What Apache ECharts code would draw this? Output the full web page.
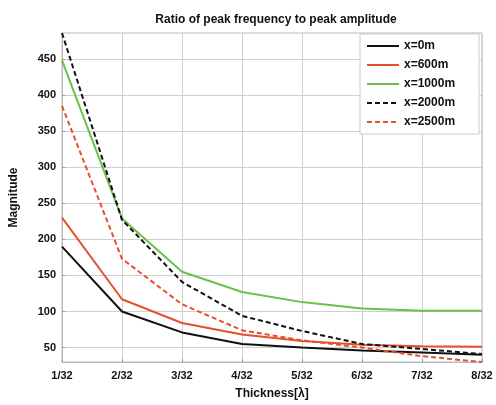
<!DOCTYPE html>
<html>
<head>
<meta charset="utf-8">
<script src="https://cdn.jsdelivr.net/npm/echarts@6/dist/echarts.min.js"></script>
<style>
  html, body { margin: 0; padding: 0; background: #fff; }
  #main { width: 496px; height: 405px; }
</style>
</head>
<body>
<div id="main"></div>
<script>
// thickness categories
const categories = ['1/32', '2/32', '3/32', '4/32', '5/32', '6/32', '7/32', '8/32']
const yTicks = [50, 100, 150, 200, 250, 300, 350, 400, 450]

// values
const x0m = [190, 100, 71, 55, 50, 46, 43, 40]
const x600m = [230, 117, 84, 68, 59, 54, 52, 51]
const x1000m = [448, 229, 155, 127, 113, 104, 101, 101]
const x2000m = [486, 227, 141, 94, 73, 55, 48, 41]
const x2500m = [385, 173, 110, 74, 60, 50, 38, 30]

const red = '#e5502e'
const green = '#6cc04a'

function mk(name, data, color, dashed) {
  return {
    name: name,
    type: 'line',
    data: data,
    symbol: 'none',
    lineStyle: { color: color, width: 2, type: dashed ? [5, 3] : 'solid' },
    itemStyle: { color: color }
  }
}

const main = document.getElementById('main')
const myChart = echarts.init(main)
const font = 'Arial, "Liberation Sans", sans-serif'

let option = {
  animation: false,
  title: {
    text: 'Ratio of peak frequency to peak amplitude',
    left: 271,
    top: 9,
    textAlign: 'center',
    textStyle: { fontSize: 12, fontWeight: 'bold', color: '#111', fontFamily: font }
  },
  legend: {
    orient: 'vertical',
    left: 360,
    top: 34,
    padding: [6, 24, 6, 6],
    itemWidth: 32,
    itemHeight: 10,
    itemGap: 7,
    backgroundColor: '#fff',
    borderColor: '#ccc',
    borderWidth: 1,
    itemStyle: { opacity: 0 },
    textStyle: { fontSize: 12, fontWeight: 'bold', color: '#111', fontFamily: font },
    data: ['x=0m', 'x=600m', 'x=1000m', 'x=2000m', 'x=2500m']
  },
  grid: { left: 62, right: 14, top: 33, bottom: 42, show: true, borderColor: '#bbb', borderWidth: 1 },
  xAxis: {
    type: 'category',
    boundaryGap: false,
    data: categories,
    name: 'Thickness[λ]',
    nameLocation: 'middle',
    nameGap: 26,
    nameTextStyle: { fontSize: 12, fontWeight: 'bold', color: '#111', fontFamily: font },
    axisLine: { lineStyle: { color: '#bbb' } },
    axisTick: { inside: true, length: 3, lineStyle: { color: '#999' } },
    axisLabel: { fontSize: 11, fontWeight: 'bold', color: '#111', fontFamily: font, margin: 8 },
    splitLine: { show: true, lineStyle: { color: '#cfcfcf' } }
  },
  yAxis: {
    type: 'value',
    min: 30,
    max: 486,
    name: 'Magnitude',
    nameLocation: 'middle',
    nameGap: 42,
    nameTextStyle: { fontSize: 12, fontWeight: 'bold', color: '#111', fontFamily: font },
    axisLine: { show: true, lineStyle: { color: '#bbb' } },
    axisTick: { show: true, inside: true, length: 3, customValues: yTicks, lineStyle: { color: '#999' } },
    axisLabel: { customValues: yTicks, fontSize: 11, fontWeight: 'bold', color: '#111', fontFamily: font, margin: 6 },
    splitLine: { show: true, lineStyle: { color: '#cfcfcf' } }
  },
  series: [
    mk('x=0m', x0m, '#111', false),
    mk('x=600m', x600m, red, false),
    mk('x=1000m', x1000m, green, false),
    mk('x=2000m', x2000m, '#111', true),
    mk('x=2500m', x2500m, red, true)
  ]
}

myChart.setOption(option)
</script>
</body>
</html>
